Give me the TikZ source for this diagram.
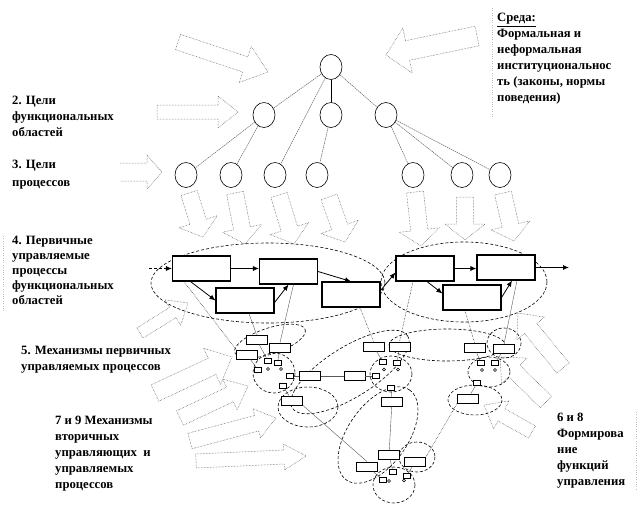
\documentclass[tikz,border=0pt]{standalone}
\usepackage{fontspec}
\setmainfont{Liberation Serif}
\usetikzlibrary{shapes.geometric,arrows.meta,calc}
\tikzset{
  lbl/.style={anchor=north west, align=left, inner sep=0pt, font=\bfseries\fontsize{12.7}{16}\selectfont},
  goal/.style={ellipse, draw, line width=0.6pt, minimum width=22pt, minimum height=25pt, inner sep=0pt},
  treeline/.style={line width=0.45pt, gray!70!black, densely dashed, dash pattern=on 1.5pt off 0.7pt},
  treesolid/.style={line width=0.6pt, black},
  pbox/.style={draw, line width=1.1pt, fill=white, minimum width=58pt, minimum height=25pt, inner sep=0pt},
  mbox/.style={draw, line width=0.9pt, fill=white, minimum width=21pt, minimum height=9pt, inner sep=0pt},
  tbox/.style={draw, line width=0.6pt, fill=white, minimum width=7pt, minimum height=5pt, inner sep=0pt},
  tdot/.style={circle, draw, line width=0.4pt, minimum size=3pt, inner sep=0pt},
  flow/.style={-{Latex[length=6pt,width=5pt]}, line width=0.8pt},
  conn/.style={line width=0.4pt, gray!70!black},
  dconn/.style={line width=0.5pt, densely dotted},
  grp/.style={line width=0.6pt, dash pattern=on 3pt off 2pt},
  barrow/.style={line width=0.5pt, densely dotted, gray!60!black},
  frame/.style={line width=0.4pt, dotted, gray!50},
}
\newcommand\blockarr[5]{%
  \coordinate (BAa) at (#1); \coordinate (BAb) at (#2);
  \coordinate (BAh) at ($(BAb)!#5!(BAa)$);
  \draw[barrow] ($(BAa)!#3!90:(BAb)$) -- ($(BAh)!#3!90:(BAb)$) -- ($(BAh)!#4!90:(BAb)$) -- (BAb) -- ($(BAh)!#4!-90:(BAb)$) -- ($(BAh)!#3!-90:(BAb)$) -- ($(BAa)!#3!-90:(BAb)$) -- cycle;
}
\newcommand\blockarropen[5]{%
  \coordinate (BAa) at (#1); \coordinate (BAb) at (#2);
  \coordinate (BAh) at ($(BAb)!#5!(BAa)$);
  \draw[barrow] ($(BAa)!#3!90:(BAb)$) -- ($(BAh)!#3!90:(BAb)$) -- ($(BAh)!#4!90:(BAb)$) -- (BAb) -- ($(BAh)!#4!-90:(BAb)$) -- ($(BAh)!#3!-90:(BAb)$) -- ($(BAa)!#3!-90:(BAb)$);
}
\begin{document}
\begin{tikzpicture}[x=1pt,y=-1pt]
\useasboundingbox[fill=white] (0,0) rectangle (640,530);

% ---------- text ----------
\node[lbl] (tsreda) at (497,13) {\underline{Среда:}\\Формальная и\\неформальная\\институциональнос\\ть (законы, нормы\\поведения)};
\node[lbl] (t2) at (12,95.5) {2. Цели\\функциональных\\областей};
\node[lbl, font=\bfseries\fontsize{12.7}{17.5}\selectfont] (t3) at (12,160) {3. Цели\\процессов};
\node[lbl, font=\bfseries\fontsize{12.7}{15}\selectfont] (t4) at (12,236) {4. Первичные\\управляемые\\процессы\\функциональных\\областей};
\node[lbl] (t5) at (21,346) {5. Механизмы первичных\\управляемых процессов};
\node[lbl] (t79) at (55,415.5) {7 и 9 Механизмы\\вторичных\\управляющих\ \ и\\управляемых\\процессов};
\node[lbl] (t68) at (557,413) {6 и 8\\Формирова\\ние\\функций\\управления};
\draw[frame] (492,8) -- (492,118);
\draw[frame] (3,236) -- (3,312);
\draw[frame] (636,412) -- (636,490);

% ---------- goal tree ----------
\node[goal] (g0) at (331,67) {};
\node[goal] (g1) at (264,115) {};
\node[goal] (g2) at (331,115) {};
\node[goal] (g3) at (386,115) {};
\node[goal] (p1) at (186,175) {};
\node[goal] (p2) at (231,175) {};
\node[goal] (p3) at (275,175) {};
\node[goal] (p4) at (317,175) {};
\node[goal] (p5) at (413,175) {};
\node[goal] (p6) at (462,175) {};
\node[goal] (p7) at (500,175) {};
\draw[treeline] (g0) -- (g1);
\draw[treesolid] (g0) -- (g2);
\draw[treeline] (g0) -- (g3);
\draw[treeline] (g0) -- (p3);
\draw[treeline] (g1) -- (p1);
\draw[treeline] (g1) -- (p2);
\draw[treeline] (g2) -- (p4);
\draw[treeline] (g3) -- (p5);
\draw[treeline] (g3) -- (p6);
\draw[treeline] (g3) -- (p7);

% ---------- block arrows ----------
\blockarr{178,42}{268,72}{8pt}{19pt}{24pt}
\blockarr{477,36}{386,55}{10pt}{23pt}{22pt}
\blockarr{157,112}{238,112}{7pt}{16pt}{20pt}
\blockarropen{120,172}{162,172}{9pt}{17pt}{15pt}
\blockarr{189,193}{203,237}{8.5pt}{20pt}{16pt}
\blockarr{235,193}{245,244}{8.5pt}{20pt}{16pt}
\blockarr{279,195}{294,244}{8.5pt}{20pt}{16pt}
\blockarr{329,197}{345,242}{8.5pt}{20pt}{16pt}
\blockarr{415,192}{421,246}{8.5pt}{20pt}{16pt}
\blockarr{465,197}{465,240}{8.5pt}{20pt}{16pt}
\blockarr{503,193}{514,241}{8.5pt}{20pt}{16pt}
\blockarr{140,333}{188,303}{6pt}{15pt}{18pt}
\blockarr{155,393}{232,357}{9pt}{20pt}{22pt}
\blockarr{180,418}{248,386}{8pt}{17pt}{20pt}
\blockarr{190,441}{276,418}{8pt}{15pt}{20pt}
\blockarr{196,461}{306,456}{7pt}{13pt}{22pt}
\blockarr{563,368}{518,313}{8pt}{18pt}{20pt}
\blockarr{546,402}{500,357}{8pt}{18pt}{20pt}
\blockarr{532,432}{484,405}{7pt}{16pt}{20pt}

% ---------- group ellipses ----------
\draw[grp] (268,283) ellipse [x radius=117, y radius=40];
\draw[grp] (464,282) ellipse [x radius=83, y radius=40];
\draw[grp, rotate around={18:(270,341)}] (270,341) ellipse [x radius=37, y radius=13];
\draw[grp] (274,373) ellipse [x radius=21, y radius=20];
\draw[grp] (391,374) ellipse [x radius=21, y radius=18];
\draw[grp] (489,372) ellipse [x radius=21, y radius=15];
\draw[grp] (475,400) ellipse [x radius=27, y radius=15];
\draw[grp] (447,345) ellipse [x radius=58, y radius=16];
\draw[grp] (504,343) ellipse [x radius=17, y radius=15];
\draw[grp, rotate around={32:(350,372)}] (350,372) ellipse [x radius=68, y radius=25];
\draw[grp] (308,407) ellipse [x radius=30, y radius=20];
\draw[grp, rotate around={55:(378,435)}] (378,435) ellipse [x radius=55, y radius=30];
\draw[grp] (417,457) ellipse [x radius=18, y radius=15];
\draw[grp] (394,485) ellipse [x radius=21, y radius=18];

% ---------- primary processes ----------
\node[pbox] (B1) at (201.5,268.5) {};
\node[pbox] (B2) at (288.5,271.5) {};
\node[pbox] (B3) at (245,300.5) {};
\node[pbox] (B4) at (351,294.5) {};
\node[pbox] (B5) at (425,268.5) {};
\node[pbox] (B6) at (506,267.5) {};
\node[pbox] (B7) at (472,297.5) {};
\coordinate (in) at (149,268.5);
\coordinate (out) at (569,267.5);
\draw[flow, densely dashed] (in) -- (B1.west);
\draw[flow] (B1.east) -- (B1.east -| B2.west);
\draw[flow] ([xshift=-11pt]B1.south) -- (B3.west);
\draw[flow] ([yshift=-2pt]B3.east) -- (B2.south);
\draw[flow] (B2.east) -- (B4.north);
\draw[flow] ([yshift=4pt]B4.east) -- ([yshift=-4pt]B5.west);
\draw[flow] (B5.east) -- (B5.east -| B6.west);
\draw[flow] ([xshift=2pt]B5.south) -- ([yshift=4pt]B7.west);
\draw[flow] (B7.east) -- ([xshift=6pt]B6.south);
\draw[flow] (B6.east) -- (out);

% ---------- mechanisms ----------
\node[mbox] (m1) at (256.5,339.5) {};
\node[mbox] (m2) at (280,347.5) {};
\node[mbox] (m3) at (247,354.5) {};
\node[mbox] (m4) at (373.5,346.5) {};
\node[mbox] (m5) at (399.5,346.5) {};
\node[mbox] (m6) at (474.5,347.5) {};
\node[mbox] (m7) at (504,349) {};
\node[mbox] (c1) at (310,376) {};
\node[mbox] (c2) at (354.5,376) {};
\node[mbox] (d1) at (292,400.5) {};
\node[mbox] (d2) at (392,401.5) {};
\node[mbox] (d3) at (468,398.5) {};
\node[mbox] (e1) at (389,455) {};
\node[mbox] (e2) at (367,466.5) {};
\node[mbox] (e3) at (415,462) {};

\node[tbox] (lt1) at (268,361) {};
\node[tbox] (lt2) at (277.5,363) {};
\node[tbox] (lt3) at (258,370) {};
\node[tbox] (lt4) at (290,376) {};
\node[tbox] (lt5) at (283,386) {};
\node[tbox] (mt1) at (383,362) {};
\node[tbox] (mt2) at (397,363) {};
\node[tbox] (mt3) at (376,376) {};
\node[tbox] (mt4) at (391,388) {};
\node[tbox] (rt1) at (481,363) {};
\node[tbox] (rt2) at (495,363) {};
\node[tbox] (rt3) at (477,383) {};
\node[tbox] (bt1) at (383,479.5) {};
\node[tbox] (bt2) at (393,472) {};
\node[tbox] (bt3) at (407,475.5) {};
\node[tdot] (lc1) at (268,369) {};
\node[tdot] (lc2) at (281,369) {};
\node[tdot] (mc1) at (384,369.5) {};
\node[tdot] (mc2) at (398,369.5) {};
\node[tdot] (rc1) at (482,370) {};
\node[tdot] (rc2) at (495,370) {};
\node[tdot] (bc1) at (389,481) {};
\node[tdot] (bc2) at (404,480.5) {};

% connections
\draw[dconn] ([xshift=12pt]B1.south west) -- (m3.north west);
\draw[conn] ([xshift=4pt]B3.south) -- (m1.north);
\draw[conn] ([xshift=5pt]B2.south) -- (m2.north);
\draw[dconn] ([xshift=9pt]B4.south) -- (m4.north);
\draw[dconn] ([xshift=-12pt]B5.south) -- (m5.north);
\draw[dconn] ([xshift=-7pt]B7.south) -- (m6.north);
\draw[conn] ([xshift=11pt]B6.south) -- (m7.north);
\draw[conn] (m1) -- (lt1);
\draw[conn] (m2) -- (lt2);
\draw[conn] (m3) -- (lt3);
\draw[conn] (m4) -- (mt1);
\draw[conn] (m5) -- (mt2);
\draw[conn] (m6) -- (rt1);
\draw[conn] (m7) -- (rt2);
\draw[conn] (lt4) -- (c1);
\draw[conn] (c1) -- (c2);
\draw[conn] (c2) -- (mt3);
\draw[conn] (lt5) -- (d1);
\draw[conn] (mt4) -- (d2);
\draw[conn] (rt3) -- (d3);
\draw[conn] (d1.south east) -- (e2.north);
\draw[conn] (d2) -- (e1);
\draw[dconn] (d3.south west) -- (e3.north east);
\draw[conn] (e2) -- (bt1);
\draw[conn] (e1) -- (bt2);
\draw[conn] (e3) -- (bt3);
\end{tikzpicture}
\end{document}
